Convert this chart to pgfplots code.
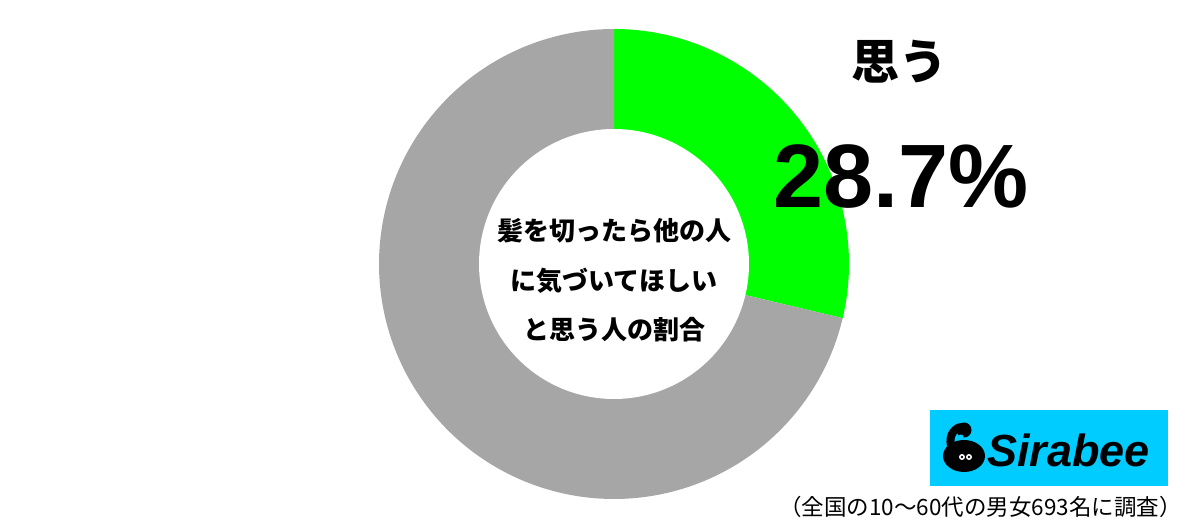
\documentclass[border=0pt]{standalone}
\usepackage{pgfplots}
\pgfplotsset{compat=1.18}
\usepackage{fontspec}
\setmainfont{Liberation Sans}
\newfontfamily\jp{Noto Sans CJK JP}
\newfontfamily\lib{Liberation Sans}
\definecolor{pgreen}{RGB}{0,255,0}
\definecolor{pgray}{RGB}{166,166,166}
\definecolor{pcyan}{RGB}{0,204,255}
\def\valA{28.7}
\def\valB{71.3}
\begin{document}
\begin{tikzpicture}
\begin{axis}[
  width=1200pt, height=522pt, scale only axis,
  xmin=0, xmax=1200, ymin=0, ymax=522,
  hide axis, clip=false,
]
\path (axis cs:0,0) rectangle (axis cs:1200,522);
% donut slices (percent values, clockwise from top)
\addplot[fill=pgreen, draw=none, domain=0:\valA, samples=120, variable=\t]
  ({614+235*sin(3.6*\t)}, {258+235*cos(3.6*\t)}) -- (axis cs:614,258) -- cycle;
\addplot[fill=pgray, draw=none, domain=\valA:100, samples=240, variable=\t]
  ({614+235*sin(3.6*\t)}, {258+235*cos(3.6*\t)}) -- (axis cs:614,258) -- cycle;
\addplot[fill=white, draw=none, domain=0:360, samples=240, variable=\t]
  ({614+135*cos(\t)}, {258+135*sin(\t)}) -- cycle;
% centre text
\node[font=\jp\bfseries\fontsize{26}{30}\selectfont] at (axis cs:614,291) {髪を切ったら他の人};
\node[font=\jp\bfseries\fontsize{26}{30}\selectfont] at (axis cs:614,241) {に気づいてほしい};
\node[font=\jp\bfseries\fontsize{26}{30}\selectfont] at (axis cs:614,192) {と思う人の割合};
% label
\node[font=\jp\bfseries\fontsize{48}{52}\selectfont] at (axis cs:899,460) {思う};
\node[font=\lib\bfseries\fontsize{90}{96}\selectfont, anchor=base] at (axis cs:901,314) {28.7\%};
% logo
\fill[pcyan] (axis cs:930,36) rectangle (axis cs:1168,112);
\fill[black] (axis cs:964,66) ellipse [x radius=21pt, y radius=16pt];
\fill[black] (axis cs:964,92) circle [radius=7.5pt];
\draw[black, line width=8pt, line cap=round] (axis cs:952,72) .. controls (axis cs:948,84) and (axis cs:952,92) .. (axis cs:960,95);
\fill[pcyan] (axis cs:961,85) circle [radius=2.5pt];
\fill[white] (axis cs:962,65) circle [radius=3pt];
\fill[white] (axis cs:969,65) circle [radius=3pt];
\fill[black] (axis cs:962,65) circle [radius=1.3pt];
\fill[black] (axis cs:969,65) circle [radius=1.3pt];
\node[font=\lib\bfseries\itshape\fontsize{45}{50}\selectfont, anchor=base west, inner sep=0pt] at (axis cs:987,55) {Sirabee};
% footer
\node[font=\jp\fontsize{22.5}{26}\selectfont, anchor=east, inner sep=0pt] at (axis cs:1182,15) {（全国の10〜60代の男女693名に調査）};
\end{axis}
\end{tikzpicture}
\end{document}
